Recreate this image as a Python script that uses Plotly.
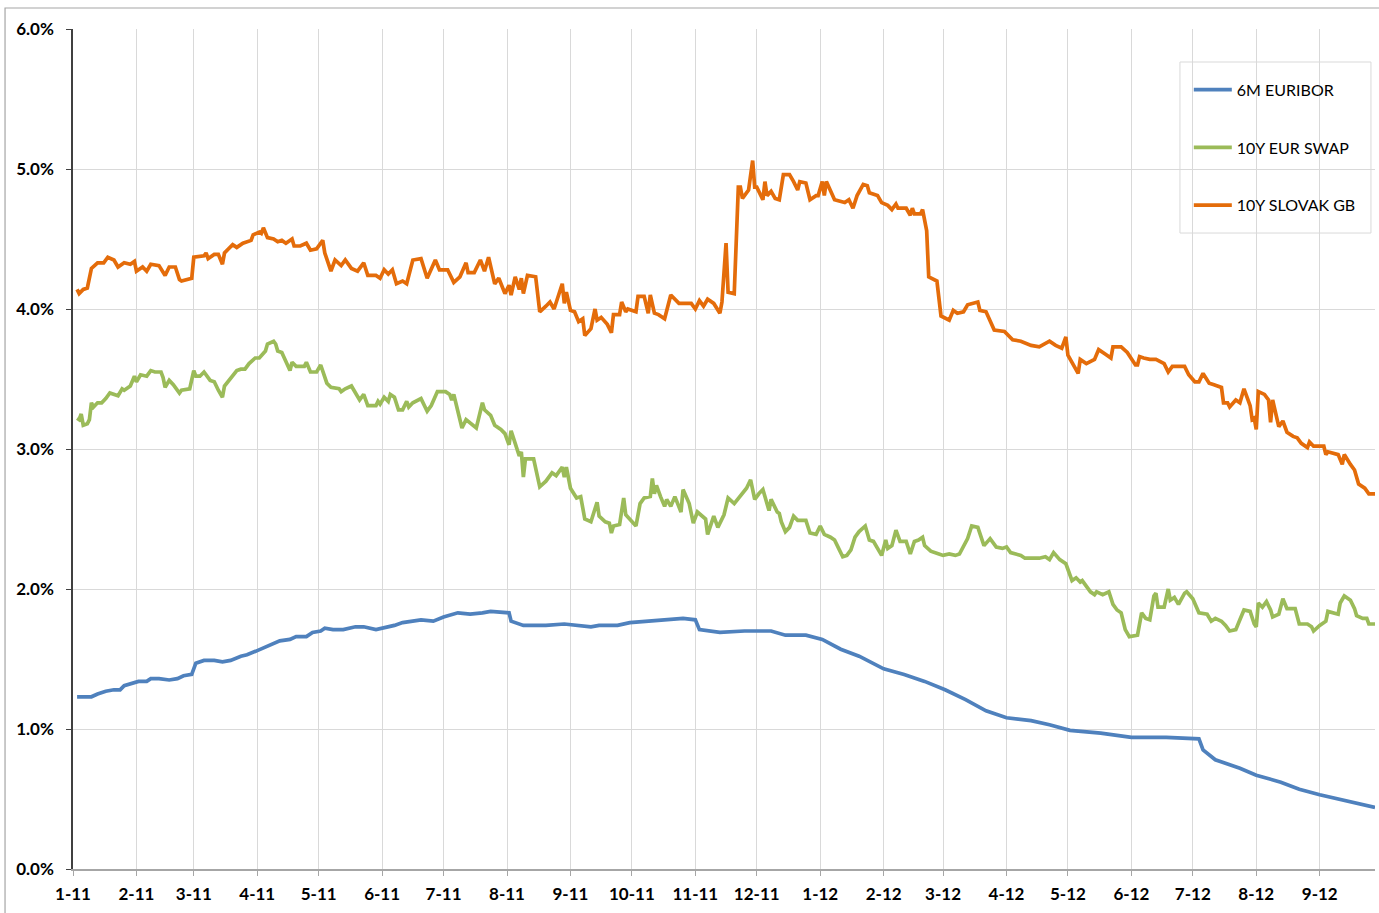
import plotly.graph_objects as go

# --- data: 6M EURIBOR, 10Y EUR swap and 10Y Slovak government bond yields (in %) ---
euribor_dates = [
    "2011-01-03", "2011-01-10", "2011-01-13", "2011-01-17", "2011-01-21", "2011-01-24", "2011-01-26",
    "2011-01-30", "2011-02-02", "2011-02-06", "2011-02-08", "2011-02-12", "2011-02-17", "2011-02-21",
    "2011-02-24", "2011-02-28", "2011-03-02", "2011-03-06", "2011-03-11", "2011-03-15", "2011-03-19",
    "2011-03-24", "2011-03-27", "2011-04-01", "2011-04-04", "2011-04-07", "2011-04-12", "2011-04-17",
    "2011-04-20", "2011-04-25", "2011-04-28", "2011-05-02", "2011-05-04", "2011-05-08", "2011-05-13",
    "2011-05-19", "2011-05-23", "2011-05-29", "2011-06-05", "2011-06-07", "2011-06-11", "2011-06-20",
    "2011-06-26", "2011-07-01", "2011-07-08", "2011-07-14", "2011-07-20", "2011-07-24", "2011-08-02",
    "2011-08-03", "2011-08-09", "2011-08-14", "2011-08-20", "2011-08-29", "2011-09-04", "2011-09-11",
    "2011-09-15", "2011-09-24", "2011-09-30", "2011-10-10", "2011-10-18", "2011-10-26", "2011-11-01",
    "2011-11-03", "2011-11-13", "2011-11-25", "2011-12-08", "2011-12-15", "2011-12-25", "2012-01-02",
    "2012-01-11", "2012-01-20", "2012-02-01", "2012-02-11", "2012-02-21", "2012-03-02", "2012-03-12",
    "2012-03-22", "2012-04-01", "2012-04-13", "2012-04-22", "2012-05-02", "2012-05-17", "2012-06-01",
    "2012-06-18", "2012-07-04", "2012-07-06", "2012-07-12", "2012-07-24", "2012-08-01", "2012-08-13",
    "2012-08-22", "2012-09-01", "2012-09-13", "2012-09-28",
]
euribor_values = [
    1.23, 1.23, 1.25, 1.27, 1.28, 1.28, 1.31,
    1.33, 1.34, 1.34, 1.36, 1.36, 1.35, 1.36,
    1.38, 1.39, 1.47, 1.49, 1.49, 1.48, 1.49,
    1.52, 1.53, 1.56, 1.58, 1.60, 1.63, 1.64,
    1.66, 1.66, 1.69, 1.70, 1.72, 1.71, 1.71,
    1.73, 1.73, 1.71, 1.73, 1.74, 1.76, 1.78,
    1.77, 1.80, 1.83, 1.82, 1.83, 1.84, 1.83,
    1.77, 1.74, 1.74, 1.74, 1.75, 1.74, 1.73,
    1.74, 1.74, 1.76, 1.77, 1.78, 1.79, 1.78,
    1.71, 1.69, 1.70, 1.70, 1.67, 1.67, 1.64,
    1.57, 1.52, 1.43, 1.39, 1.34, 1.28, 1.21,
    1.13, 1.08, 1.06, 1.03, 0.99, 0.97, 0.94,
    0.94, 0.93, 0.85, 0.78, 0.72, 0.67, 0.62,
    0.57, 0.53, 0.49, 0.44,
]

swap_dates = [
    "2011-01-03", "2011-01-04", "2011-01-05", "2011-01-06", "2011-01-08", "2011-01-09", "2011-01-10",
    "2011-01-11", "2011-01-13", "2011-01-15", "2011-01-17", "2011-01-19", "2011-01-23", "2011-01-25",
    "2011-01-26", "2011-01-29", "2011-01-31", "2011-02-01", "2011-02-03", "2011-02-06", "2011-02-08",
    "2011-02-10", "2011-02-13", "2011-02-14", "2011-02-15", "2011-02-17", "2011-02-19", "2011-02-22",
    "2011-02-23", "2011-02-27", "2011-03-01", "2011-03-02", "2011-03-04", "2011-03-06", "2011-03-09",
    "2011-03-11", "2011-03-13", "2011-03-15", "2011-03-16", "2011-03-19", "2011-03-20", "2011-03-22",
    "2011-03-24", "2011-03-26", "2011-03-28", "2011-03-31", "2011-04-02", "2011-04-05", "2011-04-06",
    "2011-04-09", "2011-04-10", "2011-04-11", "2011-04-13", "2011-04-15", "2011-04-17", "2011-04-18",
    "2011-04-20", "2011-04-24", "2011-04-25", "2011-04-27", "2011-04-30", "2011-05-02", "2011-05-05",
    "2011-05-07", "2011-05-11", "2011-05-12", "2011-05-14", "2011-05-17", "2011-05-20", "2011-05-21",
    "2011-05-23", "2011-05-25", "2011-05-29", "2011-05-30", "2011-05-31", "2011-06-02", "2011-06-04",
    "2011-06-05", "2011-06-07", "2011-06-09", "2011-06-11", "2011-06-13", "2011-06-14", "2011-06-16",
    "2011-06-20", "2011-06-23", "2011-06-25", "2011-06-28", "2011-07-02", "2011-07-04", "2011-07-05",
    "2011-07-06", "2011-07-08", "2011-07-10", "2011-07-12", "2011-07-15", "2011-07-17", "2011-07-20",
    "2011-07-21", "2011-07-24", "2011-07-26", "2011-07-29", "2011-07-31", "2011-08-02", "2011-08-03",
    "2011-08-05", "2011-08-07", "2011-08-08", "2011-08-09", "2011-08-10", "2011-08-14", "2011-08-17",
    "2011-08-20", "2011-08-23", "2011-08-25", "2011-08-28", "2011-08-29", "2011-08-30", "2011-09-01",
    "2011-09-04", "2011-09-06", "2011-09-08", "2011-09-11", "2011-09-14", "2011-09-15", "2011-09-18",
    "2011-09-20", "2011-09-21", "2011-09-22", "2011-09-25", "2011-09-27", "2011-09-28", "2011-09-30",
    "2011-10-03", "2011-10-05", "2011-10-07", "2011-10-10", "2011-10-11", "2011-10-12", "2011-10-13",
    "2011-10-15", "2011-10-17", "2011-10-18", "2011-10-20", "2011-10-22", "2011-10-25", "2011-10-26",
    "2011-10-29", "2011-10-31", "2011-11-02", "2011-11-06", "2011-11-07", "2011-11-10", "2011-11-12",
    "2011-11-15", "2011-11-17", "2011-11-20", "2011-11-23", "2011-11-26", "2011-11-28", "2011-11-30",
    "2011-12-02", "2011-12-04", "2011-12-07", "2011-12-08", "2011-12-11", "2011-12-12", "2011-12-13",
    "2011-12-15", "2011-12-17", "2011-12-19", "2011-12-21", "2011-12-25", "2011-12-27", "2011-12-30",
    "2012-01-01", "2012-01-03", "2012-01-06", "2012-01-08", "2012-01-10", "2012-01-12", "2012-01-14",
    "2012-01-16", "2012-01-18", "2012-01-20", "2012-01-23", "2012-01-25", "2012-01-27", "2012-01-30",
    "2012-01-31", "2012-02-02", "2012-02-03", "2012-02-05", "2012-02-07", "2012-02-09", "2012-02-12",
    "2012-02-14", "2012-02-16", "2012-02-18", "2012-02-20", "2012-02-21", "2012-02-24", "2012-02-28",
    "2012-03-01", "2012-03-04", "2012-03-07", "2012-03-09", "2012-03-11", "2012-03-13", "2012-03-15",
    "2012-03-18", "2012-03-21", "2012-03-24", "2012-03-27", "2012-03-30", "2012-04-01", "2012-04-03",
    "2012-04-08", "2012-04-10", "2012-04-14", "2012-04-17", "2012-04-20", "2012-04-22", "2012-04-24",
    "2012-04-27", "2012-04-30", "2012-05-03", "2012-05-05", "2012-05-07", "2012-05-08", "2012-05-12",
    "2012-05-14", "2012-05-15", "2012-05-18", "2012-05-21", "2012-05-23", "2012-05-25", "2012-05-27",
    "2012-05-29", "2012-05-31", "2012-06-04", "2012-06-06", "2012-06-08", "2012-06-10", "2012-06-12",
    "2012-06-13", "2012-06-14", "2012-06-17", "2012-06-19", "2012-06-20", "2012-06-22", "2012-06-24",
    "2012-06-27", "2012-06-28", "2012-07-01", "2012-07-04", "2012-07-08", "2012-07-10", "2012-07-12",
    "2012-07-15", "2012-07-17", "2012-07-19", "2012-07-22", "2012-07-24", "2012-07-26", "2012-07-29",
    "2012-07-31", "2012-08-01", "2012-08-02", "2012-08-04", "2012-08-06", "2012-08-08", "2012-08-09",
    "2012-08-12", "2012-08-14", "2012-08-16", "2012-08-20", "2012-08-22", "2012-08-26", "2012-08-28",
    "2012-08-29", "2012-09-01", "2012-09-04", "2012-09-05", "2012-09-10", "2012-09-11", "2012-09-13",
    "2012-09-16", "2012-09-18", "2012-09-19", "2012-09-22", "2012-09-24", "2012-09-25", "2012-09-28",
]
swap_values = [
    3.22, 3.21, 3.25, 3.17, 3.18, 3.21, 3.33,
    3.30, 3.33, 3.33, 3.36, 3.40, 3.38, 3.43,
    3.42, 3.45, 3.52, 3.48, 3.53, 3.52, 3.56,
    3.55, 3.55, 3.51, 3.44, 3.49, 3.46, 3.40,
    3.42, 3.43, 3.56, 3.52, 3.52, 3.55, 3.49,
    3.48, 3.42, 3.37, 3.45, 3.50, 3.52, 3.56,
    3.57, 3.57, 3.61, 3.65, 3.65, 3.70, 3.75,
    3.77, 3.75, 3.70, 3.69, 3.62, 3.56, 3.62,
    3.59, 3.59, 3.62, 3.55, 3.55, 3.60, 3.47,
    3.44, 3.43, 3.41, 3.43, 3.45, 3.37, 3.35,
    3.39, 3.31, 3.31, 3.34, 3.32, 3.37, 3.34,
    3.39, 3.37, 3.28, 3.28, 3.34, 3.30, 3.33,
    3.36, 3.27, 3.31, 3.41, 3.41, 3.39, 3.35,
    3.39, 3.27, 3.15, 3.21, 3.17, 3.15, 3.33,
    3.28, 3.24, 3.17, 3.14, 3.11, 3.03, 3.13,
    3.04, 2.95, 2.98, 2.80, 2.93, 2.93, 2.73,
    2.77, 2.83, 2.81, 2.87, 2.80, 2.87, 2.72,
    2.65, 2.66, 2.50, 2.48, 2.62, 2.52, 2.48,
    2.47, 2.40, 2.45, 2.46, 2.65, 2.53, 2.50,
    2.45, 2.61, 2.65, 2.66, 2.79, 2.68, 2.74,
    2.66, 2.59, 2.64, 2.59, 2.66, 2.55, 2.71,
    2.61, 2.47, 2.55, 2.50, 2.39, 2.52, 2.44,
    2.53, 2.65, 2.61, 2.67, 2.72, 2.78, 2.64,
    2.68, 2.71, 2.56, 2.64, 2.55, 2.54, 2.48,
    2.41, 2.44, 2.52, 2.49, 2.49, 2.40, 2.39,
    2.45, 2.39, 2.37, 2.35, 2.29, 2.23, 2.24,
    2.28, 2.37, 2.41, 2.45, 2.35, 2.34, 2.26,
    2.24, 2.35, 2.29, 2.31, 2.42, 2.34, 2.34,
    2.25, 2.34, 2.35, 2.37, 2.31, 2.27, 2.25,
    2.24, 2.25, 2.24, 2.25, 2.30, 2.36, 2.45,
    2.44, 2.31, 2.36, 2.30, 2.29, 2.30, 2.26,
    2.24, 2.22, 2.22, 2.22, 2.23, 2.21, 2.26,
    2.21, 2.18, 2.06, 2.08, 2.05, 2.06, 1.98,
    1.96, 1.98, 1.96, 1.98, 1.89, 1.85, 1.83,
    1.71, 1.66, 1.67, 1.83, 1.79, 1.78, 1.95,
    1.97, 1.87, 1.87, 2.00, 1.92, 1.94, 1.89,
    1.97, 1.98, 1.93, 1.83, 1.82, 1.77, 1.79,
    1.77, 1.74, 1.70, 1.71, 1.78, 1.85, 1.84,
    1.75, 1.73, 1.90, 1.87, 1.91, 1.85, 1.80,
    1.82, 1.93, 1.86, 1.86, 1.75, 1.75, 1.73,
    1.70, 1.74, 1.77, 1.84, 1.82, 1.90, 1.95,
    1.92, 1.86, 1.81, 1.79, 1.79, 1.75, 1.75,
]

slovak_dates = [
    "2011-01-03", "2011-01-04", "2011-01-06", "2011-01-08", "2011-01-10", "2011-01-13", "2011-01-16",
    "2011-01-18", "2011-01-21", "2011-01-23", "2011-01-26", "2011-01-29", "2011-01-31", "2011-02-01",
    "2011-02-04", "2011-02-06", "2011-02-08", "2011-02-12", "2011-02-15", "2011-02-17", "2011-02-20",
    "2011-02-22", "2011-02-23", "2011-02-28", "2011-03-01", "2011-03-06", "2011-03-07", "2011-03-08",
    "2011-03-11", "2011-03-13", "2011-03-15", "2011-03-16", "2011-03-18", "2011-03-20", "2011-03-22",
    "2011-03-25", "2011-03-29", "2011-03-30", "2011-04-02", "2011-04-03", "2011-04-04", "2011-04-06",
    "2011-04-09", "2011-04-11", "2011-04-13", "2011-04-15", "2011-04-18", "2011-04-19", "2011-04-22",
    "2011-04-25", "2011-04-27", "2011-04-30", "2011-05-03", "2011-05-04", "2011-05-07", "2011-05-09",
    "2011-05-12", "2011-05-14", "2011-05-17", "2011-05-20", "2011-05-23", "2011-05-25", "2011-05-29",
    "2011-05-31", "2011-06-02", "2011-06-04", "2011-06-06", "2011-06-08", "2011-06-11", "2011-06-13",
    "2011-06-16", "2011-06-20", "2011-06-23", "2011-06-27", "2011-06-29", "2011-07-03", "2011-07-06",
    "2011-07-09", "2011-07-12", "2011-07-13", "2011-07-16", "2011-07-19", "2011-07-21", "2011-07-23",
    "2011-07-26", "2011-07-28", "2011-07-31", "2011-08-02", "2011-08-03", "2011-08-05", "2011-08-07",
    "2011-08-08", "2011-08-09", "2011-08-11", "2011-08-15", "2011-08-17", "2011-08-20", "2011-08-22",
    "2011-08-24", "2011-08-28", "2011-08-29", "2011-08-30", "2011-09-01", "2011-09-03", "2011-09-05",
    "2011-09-07", "2011-09-08", "2011-09-11", "2011-09-13", "2011-09-14", "2011-09-16", "2011-09-19",
    "2011-09-21", "2011-09-22", "2011-09-25", "2011-09-26", "2011-09-28", "2011-09-29", "2011-10-03",
    "2011-10-04", "2011-10-07", "2011-10-09", "2011-10-10", "2011-10-12", "2011-10-14", "2011-10-17",
    "2011-10-20", "2011-10-24", "2011-10-30", "2011-11-01", "2011-11-03", "2011-11-05", "2011-11-07",
    "2011-11-10", "2011-11-13", "2011-11-14", "2011-11-16", "2011-11-17", "2011-11-20", "2011-11-22",
    "2011-11-23", "2011-11-24", "2011-11-27", "2011-11-29", "2011-11-30", "2011-12-01", "2011-12-04",
    "2011-12-05", "2011-12-06", "2011-12-08", "2011-12-10", "2011-12-12", "2011-12-14", "2011-12-17",
    "2011-12-19", "2011-12-21", "2011-12-22", "2011-12-25", "2011-12-27", "2011-12-30", "2011-12-31",
    "2012-01-02", "2012-01-03", "2012-01-04", "2012-01-08", "2012-01-11", "2012-01-13", "2012-01-15",
    "2012-01-17", "2012-01-19", "2012-01-22", "2012-01-24", "2012-01-25", "2012-01-29", "2012-01-31",
    "2012-02-03", "2012-02-05", "2012-02-07", "2012-02-08", "2012-02-12", "2012-02-14", "2012-02-15",
    "2012-02-16", "2012-02-19", "2012-02-20", "2012-02-22", "2012-02-23", "2012-02-27", "2012-02-29",
    "2012-03-04", "2012-03-06", "2012-03-08", "2012-03-11", "2012-03-13", "2012-03-18", "2012-03-19",
    "2012-03-22", "2012-03-26", "2012-03-31", "2012-04-04", "2012-04-08", "2012-04-13", "2012-04-17",
    "2012-04-22", "2012-04-25", "2012-04-28", "2012-04-30", "2012-05-01", "2012-05-03", "2012-05-06",
    "2012-05-07", "2012-05-10", "2012-05-14", "2012-05-16", "2012-05-19", "2012-05-22", "2012-05-23",
    "2012-05-27", "2012-05-30", "2012-06-03", "2012-06-04", "2012-06-05", "2012-06-07", "2012-06-10",
    "2012-06-13", "2012-06-17", "2012-06-19", "2012-06-21", "2012-06-27", "2012-06-29", "2012-07-02",
    "2012-07-04", "2012-07-06", "2012-07-09", "2012-07-11", "2012-07-15", "2012-07-16", "2012-07-18",
    "2012-07-19", "2012-07-22", "2012-07-24", "2012-07-26", "2012-07-29", "2012-07-30", "2012-07-31",
    "2012-08-01", "2012-08-02", "2012-08-05", "2012-08-07", "2012-08-08", "2012-08-09", "2012-08-12",
    "2012-08-14", "2012-08-16", "2012-08-19", "2012-08-21", "2012-08-23", "2012-08-26", "2012-08-27",
    "2012-08-29", "2012-09-03", "2012-09-04", "2012-09-05", "2012-09-10", "2012-09-12", "2012-09-13",
    "2012-09-16", "2012-09-18", "2012-09-20", "2012-09-23", "2012-09-25", "2012-09-28",
]
slovak_values = [
    4.14, 4.11, 4.14, 4.15, 4.29, 4.33, 4.33,
    4.37, 4.35, 4.30, 4.33, 4.32, 4.34, 4.27,
    4.30, 4.27, 4.32, 4.31, 4.24, 4.30, 4.30,
    4.21, 4.20, 4.22, 4.37, 4.38, 4.40, 4.36,
    4.39, 4.39, 4.32, 4.40, 4.43, 4.46, 4.44,
    4.47, 4.49, 4.53, 4.55, 4.54, 4.58, 4.51,
    4.50, 4.48, 4.49, 4.47, 4.50, 4.45, 4.45,
    4.47, 4.42, 4.43, 4.49, 4.40, 4.27, 4.35,
    4.31, 4.35, 4.29, 4.27, 4.33, 4.24, 4.24,
    4.22, 4.28, 4.25, 4.28, 4.18, 4.20, 4.18,
    4.35, 4.36, 4.22, 4.35, 4.28, 4.28, 4.19,
    4.23, 4.33, 4.26, 4.26, 4.35, 4.27, 4.37,
    4.18, 4.22, 4.11, 4.17, 4.10, 4.23, 4.14,
    4.22, 4.11, 4.24, 4.23, 3.98, 4.02, 4.05,
    4.00, 4.18, 4.04, 4.12, 3.99, 3.98, 3.91,
    3.93, 3.81, 3.86, 4.00, 3.92, 3.94, 3.89,
    3.83, 3.96, 3.96, 4.05, 3.98, 4.00, 3.98,
    4.09, 4.09, 3.97, 4.10, 3.97, 3.96, 3.93,
    4.10, 4.04, 4.04, 4.00, 4.06, 4.02, 4.07,
    4.04, 3.97, 4.05, 4.47, 4.12, 4.11, 4.87,
    4.87, 4.79, 4.85, 5.06, 4.87, 4.87, 4.78,
    4.91, 4.81, 4.84, 4.79, 4.78, 4.96, 4.96,
    4.91, 4.85, 4.91, 4.90, 4.78, 4.81, 4.81,
    4.91, 4.81, 4.91, 4.78, 4.77, 4.76, 4.78,
    4.72, 4.81, 4.89, 4.88, 4.83, 4.81, 4.76,
    4.74, 4.71, 4.75, 4.72, 4.72, 4.67, 4.72,
    4.68, 4.68, 4.71, 4.56, 4.23, 4.20, 3.95,
    3.92, 3.99, 3.97, 3.98, 4.03, 4.05, 3.99,
    3.98, 3.85, 3.84, 3.78, 3.77, 3.74, 3.73,
    3.77, 3.74, 3.72, 3.80, 3.67, 3.62, 3.54,
    3.64, 3.61, 3.64, 3.71, 3.68, 3.65, 3.73,
    3.73, 3.69, 3.60, 3.60, 3.66, 3.65, 3.64,
    3.64, 3.61, 3.55, 3.59, 3.59, 3.53, 3.48,
    3.48, 3.54, 3.47, 3.46, 3.44, 3.33, 3.33,
    3.30, 3.35, 3.33, 3.43, 3.31, 3.21, 3.22,
    3.14, 3.41, 3.39, 3.35, 3.19, 3.35, 3.16,
    3.20, 3.12, 3.09, 3.08, 3.04, 3.01, 3.05,
    3.02, 3.02, 2.96, 2.98, 2.96, 2.89, 2.96,
    2.89, 2.85, 2.75, 2.72, 2.68, 2.68,
]

series_names = ["6M EURIBOR", "10Y EUR SWAP", "10Y SLOVAK GB"]
series_colors = ["#4F81BD", "#9BBB59", "#E46C0A"]

fig = go.Figure()
for name, color, xs, ys in zip(
    series_names,
    series_colors,
    [euribor_dates, swap_dates, slovak_dates],
    [euribor_values, swap_values, slovak_values],
):
    fig.add_trace(
        go.Scatter(
            x=xs,
            y=ys,
            mode="lines",
            name=name,
            legendgroup=name,
            line=dict(color=color, width=3.7),
        )
    )

tick_font = dict(family="Lato", size=17, color="#000000", weight="bold")

fig.update_layout(
    width=1379,
    height=913,
    margin=dict(l=73, r=4, t=29, b=44),
    paper_bgcolor="white",
    plot_bgcolor="white",
    showlegend=True,
    legend=dict(
        x=0.857,
        y=0.948,
        xanchor="left",
        yanchor="top",
        bgcolor="rgba(0,0,0,0)",
        borderwidth=0,
        traceorder="grouped",
        tracegroupgap=34,
        font=dict(family="Lato", size=16, color="#000000"),
        itemwidth=38,
    ),
    xaxis=dict(
        type="date",
        range=["2011-01-01", "2012-09-28"],
        dtick="M1",
        tick0="2011-01-01",
        tickformat="%-m-%y",
        showgrid=True,
        gridcolor="#D9D9D9",
        gridwidth=1,
        showline=True,
        linecolor="#A6A6A6",
        linewidth=1.5,
        ticks="outside",
        ticklen=5,
        tickcolor="#A6A6A6",
        tickfont=tick_font,
        ticklabelstandoff=4,
        zeroline=False,
    ),
    yaxis=dict(
        range=[0, 6],
        dtick=1,
        tickformat=".1f",
        ticksuffix="%",
        showgrid=True,
        gridcolor="#D9D9D9",
        gridwidth=1,
        showline=True,
        linecolor="#404040",
        linewidth=1.5,
        ticks="outside",
        ticklen=5,
        tickcolor="#404040",
        tickfont=tick_font,
        ticklabelstandoff=9,
        zeroline=False,
    ),
    shapes=[
        # outer chart frame
        dict(
            type="rect", xref="paper", yref="paper",
            x0=-0.0522, x1=1.01, y0=-0.07, y1=1.025,
            line=dict(color="#A6A6A6", width=1.2),
            fillcolor="rgba(0,0,0,0)", layer="above",
        ),
        # legend frame
        dict(
            type="rect", xref="paper", yref="paper",
            x0=0.8502, x1=0.9969, y0=0.7571, y1=0.9607,
            line=dict(color="#D9D9D9", width=1),
            fillcolor="white", layer="below",
        ),
    ],
)

fig.write_html("out.html")
